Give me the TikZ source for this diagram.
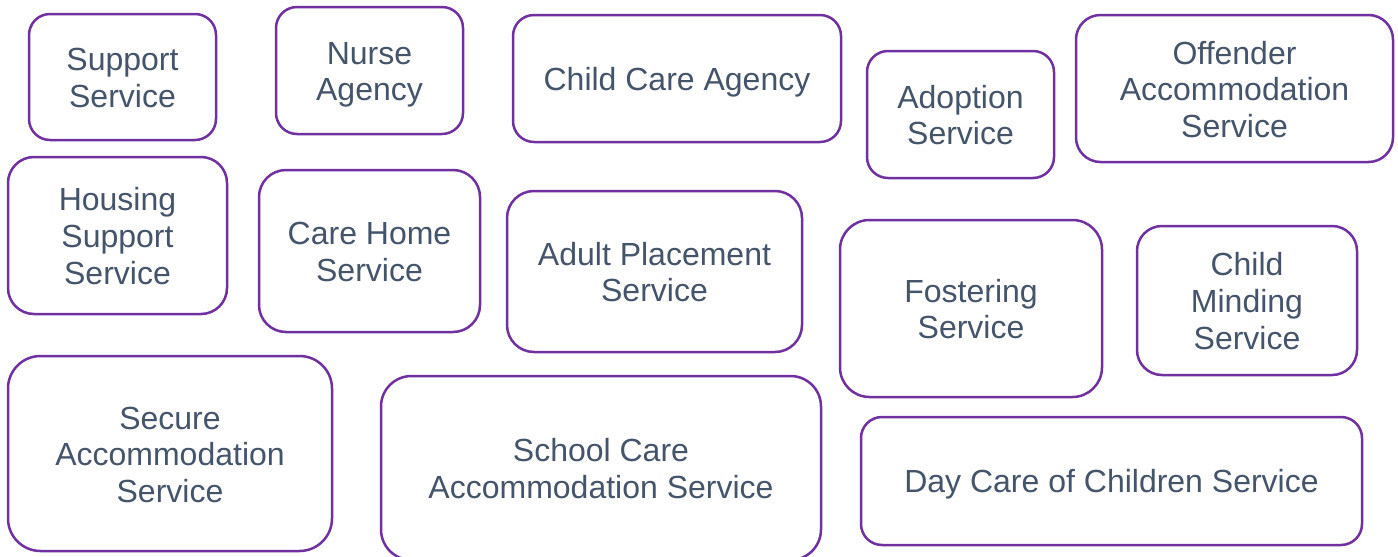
\documentclass[tikz,border=0pt]{standalone}
\usepackage{fontspec}
\setmainfont{Liberation Sans}
\usepackage{xcolor}
\usepackage{array}
\usepackage{tikz}

\definecolor{servicepurple}{HTML}{7030A0}
\definecolor{serviceslate}{HTML}{44546A}

% centred lines, each on a fixed 36.5pt line box (ascent 30.25pt, descent 6.25pt)
\newcommand\svclines[1]{{\renewcommand\arraystretch{0}%
  \begin{tabular}{@{}>{\rule[-6.25pt]{0pt}{36.5pt}}c@{}}#1\end{tabular}}}

\begin{document}
\begin{tikzpicture}[
  x=1pt, y=-1pt,
  font=\fontsize{32}{36.5}\selectfont,
  box/.style={draw=servicepurple, line width=2.5pt, rounded corners=#1,
    fill=white, text=serviceslate, inner sep=0pt},
  box/.default=21pt
]
\useasboundingbox (0,0) rectangle (1398,557);

% top row
\node[box, minimum width=187pt, minimum height=126pt] (support) at (122.5,77) {\svclines{Support\\Service}};
\node[box, minimum width=187pt, minimum height=127pt] (nurse) at (369.5,70.5) {\svclines{Nurse\\Agency}};
\node[box, minimum width=328pt, minimum height=127pt] (childcare) at (677,78.5) {\svclines{Child Care Agency}};
\node[box, minimum width=187pt, minimum height=127pt] (adoption) at (960.5,114.5) {\svclines{Adoption\\Service}};
\node[box=24.5pt, minimum width=317pt, minimum height=147pt] (offender) at (1234.5,88.5) {\svclines{Offender\\Accommodation\\Service}};

% middle row
\node[box=26pt, minimum width=219pt, minimum height=157pt] (housing) at (117.5,235.5) {\svclines{Housing\\Support\\Service}};
\node[box=27pt, minimum width=221pt, minimum height=162pt] (carehome) at (369.5,251) {\svclines{Care Home\\Service}};
\node[box=27pt, minimum width=295pt, minimum height=161pt] (adultplace) at (654.5,271.5) {\svclines{Adult Placement\\Service}};
\node[box=29.5pt, minimum width=262pt, minimum height=177pt] (fostering) at (971,308.5) {\svclines{Fostering\\Service}};
\node[box=25pt, minimum width=220pt, minimum height=149pt] (childmind) at (1247,300.5) {\svclines{Child\\Minding\\Service}};

% bottom row
\node[box=32.5pt, minimum width=324pt, minimum height=195pt] (secure) at (170,453.5) {\svclines{Secure\\Accommodation\\Service}};
\node[box=30.5pt, minimum width=440pt, minimum height=184pt] (school) at (601,468) {\svclines{School Care\\Accommodation Service}};
\node[box, minimum width=501pt, minimum height=128pt] (daycare) at (1111.5,481) {\svclines{Day Care of Children Service}};
\end{tikzpicture}
\end{document}
